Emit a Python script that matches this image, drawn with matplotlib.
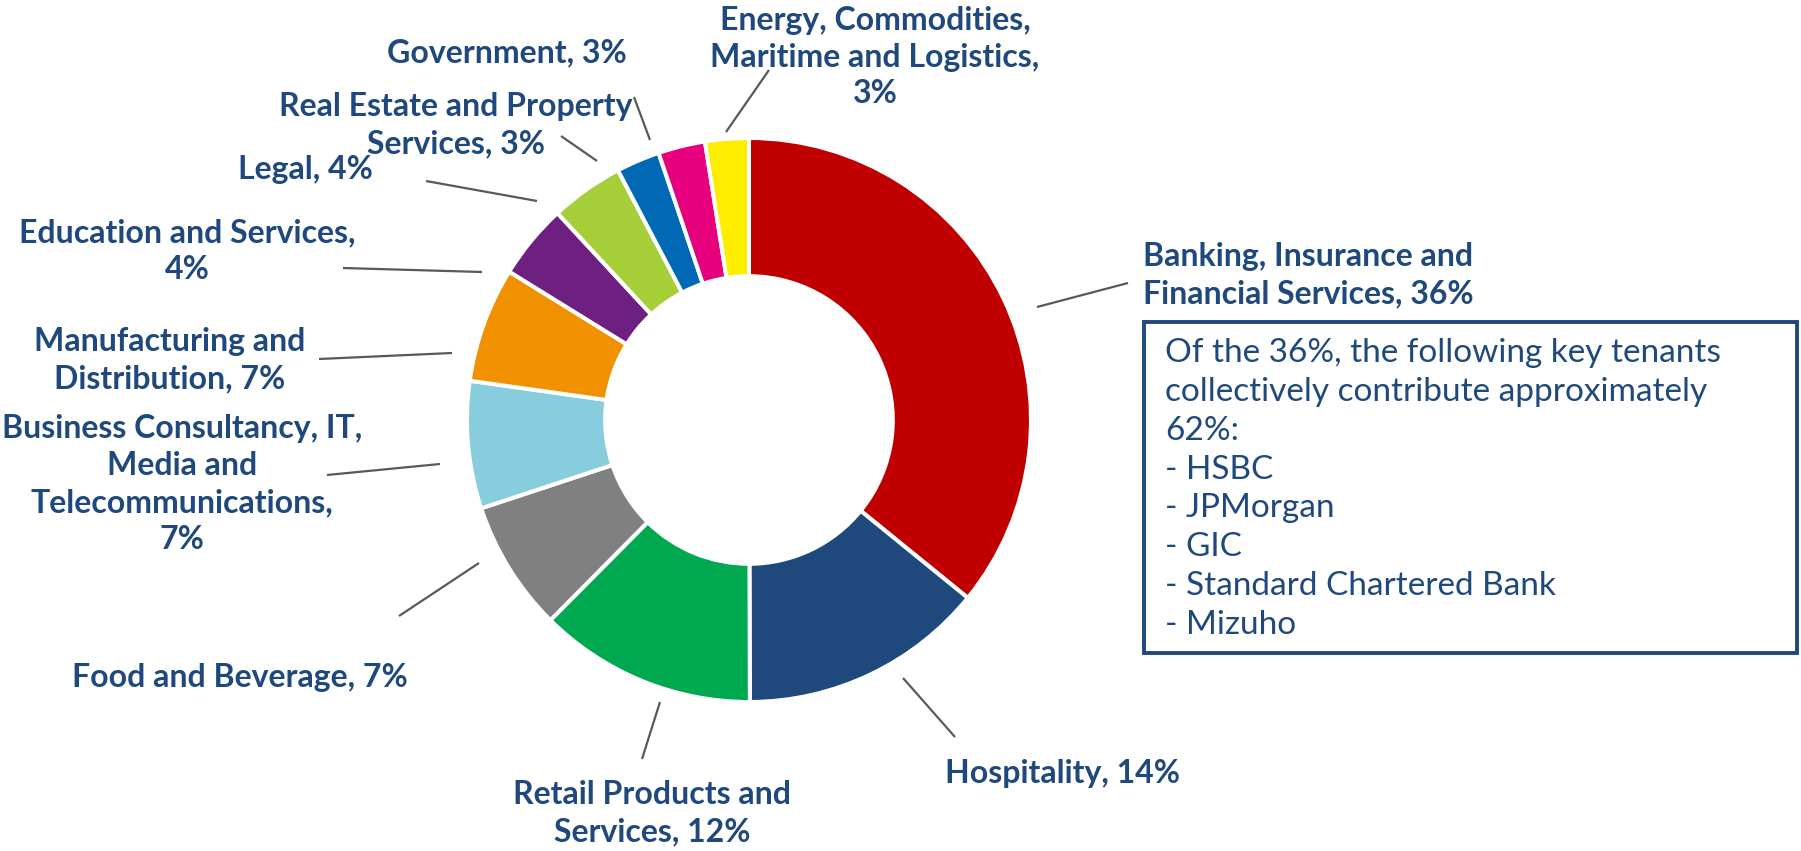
import matplotlib.pyplot as plt
from matplotlib.patches import Rectangle

W, H = 1801, 851
NAVY = "#1F497D"

sectors = [
    "Banking, Insurance and\nFinancial Services, 36%",
    "Hospitality, 14%",
    "Retail Products and\nServices, 12%",
    "Food and Beverage, 7%",
    "Business Consultancy, IT,\nMedia and\nTelecommunications,\n7%",
    "Manufacturing and\nDistribution, 7%",
    "Education and Services,\n4%",
    "Legal, 4%",
    "Real Estate and Property\nServices, 3%",
    "Government, 3%",
    "Energy, Commodities,\nMaritime and Logistics,\n3%",
]
shares = [35.9, 14.1, 12.5, 7.5, 7.3, 6.6, 4.3, 4.2, 2.5, 2.7, 2.5]
colors = ["#C00000", "#1F497D", "#00A850", "#808080", "#88CDDD", "#F29100",
          "#6E2080", "#A6CE39", "#0068B4", "#E6007E", "#FFED00"]

tenants = ["HSBC", "JPMorgan", "GIC", "Standard Chartered Bank", "Mizuho"]
note = ("Of the 36%, the following key tenants\n"
        "collectively contribute approximately\n62%:\n"
        + "\n".join("- " + t for t in tenants))

# label layout in pixel coords (x, y from top), leader (x0, y0, x1, y1)
label_pos = [(1308, 275), (1062, 773), (652, 813), (240, 677), (182, 484),
             (170, 360), (187, 251), (305, 170), (456, 125), (507, 53), (875, 57)]
leaders = [(1037, 307, 1128, 283), (903, 678, 955, 737), (660, 702, 642, 759),
           (479, 563, 399, 616), (440, 464, 327, 475), (452, 353, 319, 359),
           (482, 272, 343, 268), (537, 201, 426, 181), (597, 161, 561, 136),
           (650, 140, 634, 97), (726, 132, 769, 70)]

fig = plt.figure(figsize=(W / 100, H / 100), dpi=100)
ax = fig.add_axes([0, 0, 1, 1])

R = 282
ax.pie(shares, colors=colors, startangle=90, counterclock=False,
       radius=R, center=(749, H - 420),
       wedgeprops=dict(width=R * 0.49, edgecolor="white", linewidth=2.9))

ax.set_xlim(0, W)
ax.set_ylim(0, H)
ax.set_aspect("equal")
ax.axis("off")

for txt, (x, y) in zip(sectors, label_pos):
    ax.text(x, H - y, txt, ha="center", va="center", color=NAVY,
            fontsize=23, fontweight="bold", family="Lato", linespacing=1.33)

for x0, y0, x1, y1 in leaders:
    ax.plot([x0, x1], [H - y0, H - y1], color="#595959", lw=1.6,
            solid_capstyle="butt")

ax.add_patch(Rectangle((1144, H - 653), 1797 - 1144, 653 - 322,
                       facecolor="white", edgecolor=NAVY, lw=2.8))
ax.text(1165, H - 489, note, ha="left", va="center", color=NAVY,
        fontsize=24, family="Lato", linespacing=1.37)

fig.savefig("out.png", dpi=100)
